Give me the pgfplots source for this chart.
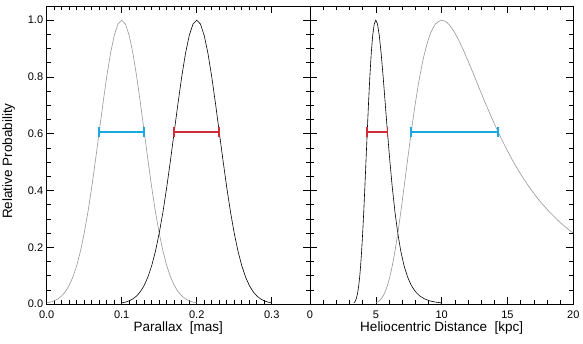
\documentclass[border=0pt]{standalone}
\usepackage{pgfplots}
\pgfplotsset{compat=1.18}
\usepackage{fontspec}
\setmainfont{Liberation Sans}
\definecolor{curvegray}{RGB}{150,150,150}
\definecolor{barcyan}{RGB}{26,168,224}
\definecolor{barred}{RGB}{206,44,56}
\pgfplotsset{
  every axis/.append style={
    scale only axis, width=263.3pt, height=298pt,
    ymin=0, ymax=1.05,
    ytick={0,0.2,...,1.0}, minor y tick num=3,
    tick align=inside, major tick length=7pt, minor tick length=4pt,
    tick style={black, line width=0.6pt},
    axis line style={line width=0.8pt},
    tick label style={font=\fontsize{11}{13}\selectfont},
    label style={font=\fontsize{13.5}{15}\selectfont},
    xticklabel style={yshift=-3pt},
    xlabel style={yshift=3pt},
    /pgf/number format/assume math mode=true,
  },
}
\begin{document}
\begin{tikzpicture}
\useasboundingbox (0,0) rectangle (583pt,343pt);
% parallax panel
\begin{axis}[
  at={(46.7pt,39pt)}, anchor=south west,
  xmin=0, xmax=0.351,
  xtick={0,0.1,0.2,0.3}, minor x tick num=9,
  xticklabel style={/pgf/number format/.cd, fixed, fixed zerofill, precision=1},
  yticklabel style={/pgf/number format/.cd, fixed, fixed zerofill, precision=1},
  xlabel={Parallax\ \ [mas]},
  ylabel={Relative Probability},
  ylabel style={at={(rel axis cs:0,0.5)}, anchor=center, yshift=38pt, xshift=-6pt},
]
\addplot[curvegray, line width=0.6pt] coordinates {
 (0.000,0.00387) (0.005,0.00665) (0.010,0.01111) (0.015,0.01807) (0.020,0.02857)
 (0.025,0.04394) (0.030,0.06573) (0.035,0.09563) (0.040,0.13534) (0.045,0.18627)
 (0.050,0.24935) (0.055,0.32465) (0.060,0.41111) (0.065,0.50632) (0.070,0.60653)
 (0.075,0.70667) (0.080,0.80074) (0.085,0.88250) (0.090,0.94596) (0.095,0.98621)
 (0.100,1.00000)
 (0.105,0.98621) (0.110,0.94596) (0.115,0.88250) (0.120,0.80074) (0.125,0.70667)
 (0.130,0.60653) (0.135,0.50632) (0.140,0.41111) (0.145,0.32465) (0.150,0.24935)
 (0.155,0.18627) (0.160,0.13534) (0.165,0.09563) (0.170,0.06573) (0.175,0.04394)
 (0.180,0.02857) (0.185,0.01807) (0.190,0.01111) (0.195,0.00665) (0.200,0.00387)
};
\addplot[black, line width=0.6pt] coordinates {
 (0.100,0.00387) (0.105,0.00665) (0.110,0.01111) (0.115,0.01807) (0.120,0.02857)
 (0.125,0.04394) (0.130,0.06573) (0.135,0.09563) (0.140,0.13534) (0.145,0.18627)
 (0.150,0.24935) (0.155,0.32465) (0.160,0.41111) (0.165,0.50632) (0.170,0.60653)
 (0.175,0.70667) (0.180,0.80074) (0.185,0.88250) (0.190,0.94596) (0.195,0.98621)
 (0.200,1.00000)
 (0.205,0.98621) (0.210,0.94596) (0.215,0.88250) (0.220,0.80074) (0.225,0.70667)
 (0.230,0.60653) (0.235,0.50632) (0.240,0.41111) (0.245,0.32465) (0.250,0.24935)
 (0.255,0.18627) (0.260,0.13534) (0.265,0.09563) (0.270,0.06573) (0.275,0.04394)
 (0.280,0.02857) (0.285,0.01807) (0.290,0.01111) (0.295,0.00665) (0.300,0.00387)
};
\addplot[barcyan, line width=1.8pt, mark=|, mark size=5pt, mark options={line width=1.8pt}]
  coordinates {(0.07,0.6065) (0.13,0.6065)};
\addplot[barred, line width=1.8pt, mark=|, mark size=5pt, mark options={line width=1.8pt}]
  coordinates {(0.17,0.6065) (0.23,0.6065)};
\end{axis}
% distance panel
\begin{axis}[
  at={(310pt,39pt)}, anchor=south west,
  xmin=0, xmax=20,
  xtick={0,5,10,15,20}, minor x tick num=4,
  yticklabels={},
  xlabel={Heliocentric Distance\ \ [kpc]},
]
\addplot[black, line width=0.6pt] coordinates {
 (3.333,0.00387) (3.390,0.00665) (3.448,0.01111) (3.509,0.01807) (3.571,0.02857)
 (3.636,0.04394) (3.704,0.06573) (3.774,0.09563) (3.846,0.13534) (3.922,0.18627)
 (4.000,0.24935) (4.082,0.32465) (4.167,0.41111) (4.255,0.50632) (4.348,0.60653)
 (4.444,0.70667) (4.545,0.80074) (4.651,0.88250) (4.762,0.94596) (4.878,0.98621)
 (5.000,1.00000)
 (5.128,0.98621) (5.263,0.94596) (5.405,0.88250) (5.556,0.80074) (5.714,0.70667)
 (5.882,0.60653) (6.061,0.50632) (6.250,0.41111) (6.452,0.32465) (6.667,0.24935)
 (6.897,0.18627) (7.143,0.13534) (7.407,0.09563) (7.692,0.06573) (8.000,0.04394)
 (8.333,0.02857) (8.696,0.01807) (9.091,0.01111) (9.524,0.00665) (10.000,0.00387)
};
\addplot[curvegray, line width=0.6pt, smooth] coordinates {
 (5.000,0.00387) (5.128,0.00665) (5.263,0.01111) (5.405,0.01807) (5.556,0.02857)
 (5.714,0.04394) (5.882,0.06573) (6.061,0.09563) (6.250,0.13534) (6.452,0.18627)
 (6.667,0.24935) (6.897,0.32465) (7.143,0.41111) (7.407,0.50632) (7.692,0.60653)
 (8.000,0.70667) (8.333,0.80074) (8.696,0.88250) (9.091,0.94596) (9.524,0.98621)
 (10.000,1.00000)
 (10.256,0.99653) (10.526,0.98621) (10.811,0.96923) (11.111,0.94596) (11.429,0.91685)
 (11.765,0.88250) (12.121,0.84355) (12.500,0.80074) (12.903,0.75484) (13.333,0.70667)
 (13.793,0.65695) (14.286,0.60653) (14.815,0.55613) (15.385,0.50632) (16.000,0.45783)
 (16.667,0.41111) (17.391,0.36661) (18.182,0.32465) (19.048,0.28551) (20.000,0.24935)
};
\addplot[barred, line width=1.8pt, mark=|, mark size=5pt, mark options={line width=1.8pt}]
  coordinates {(4.348,0.6065) (5.882,0.6065)};
\addplot[barcyan, line width=1.8pt, mark=|, mark size=5pt, mark options={line width=1.8pt}]
  coordinates {(7.692,0.6065) (14.286,0.6065)};
\end{axis}
\end{tikzpicture}
\end{document}
